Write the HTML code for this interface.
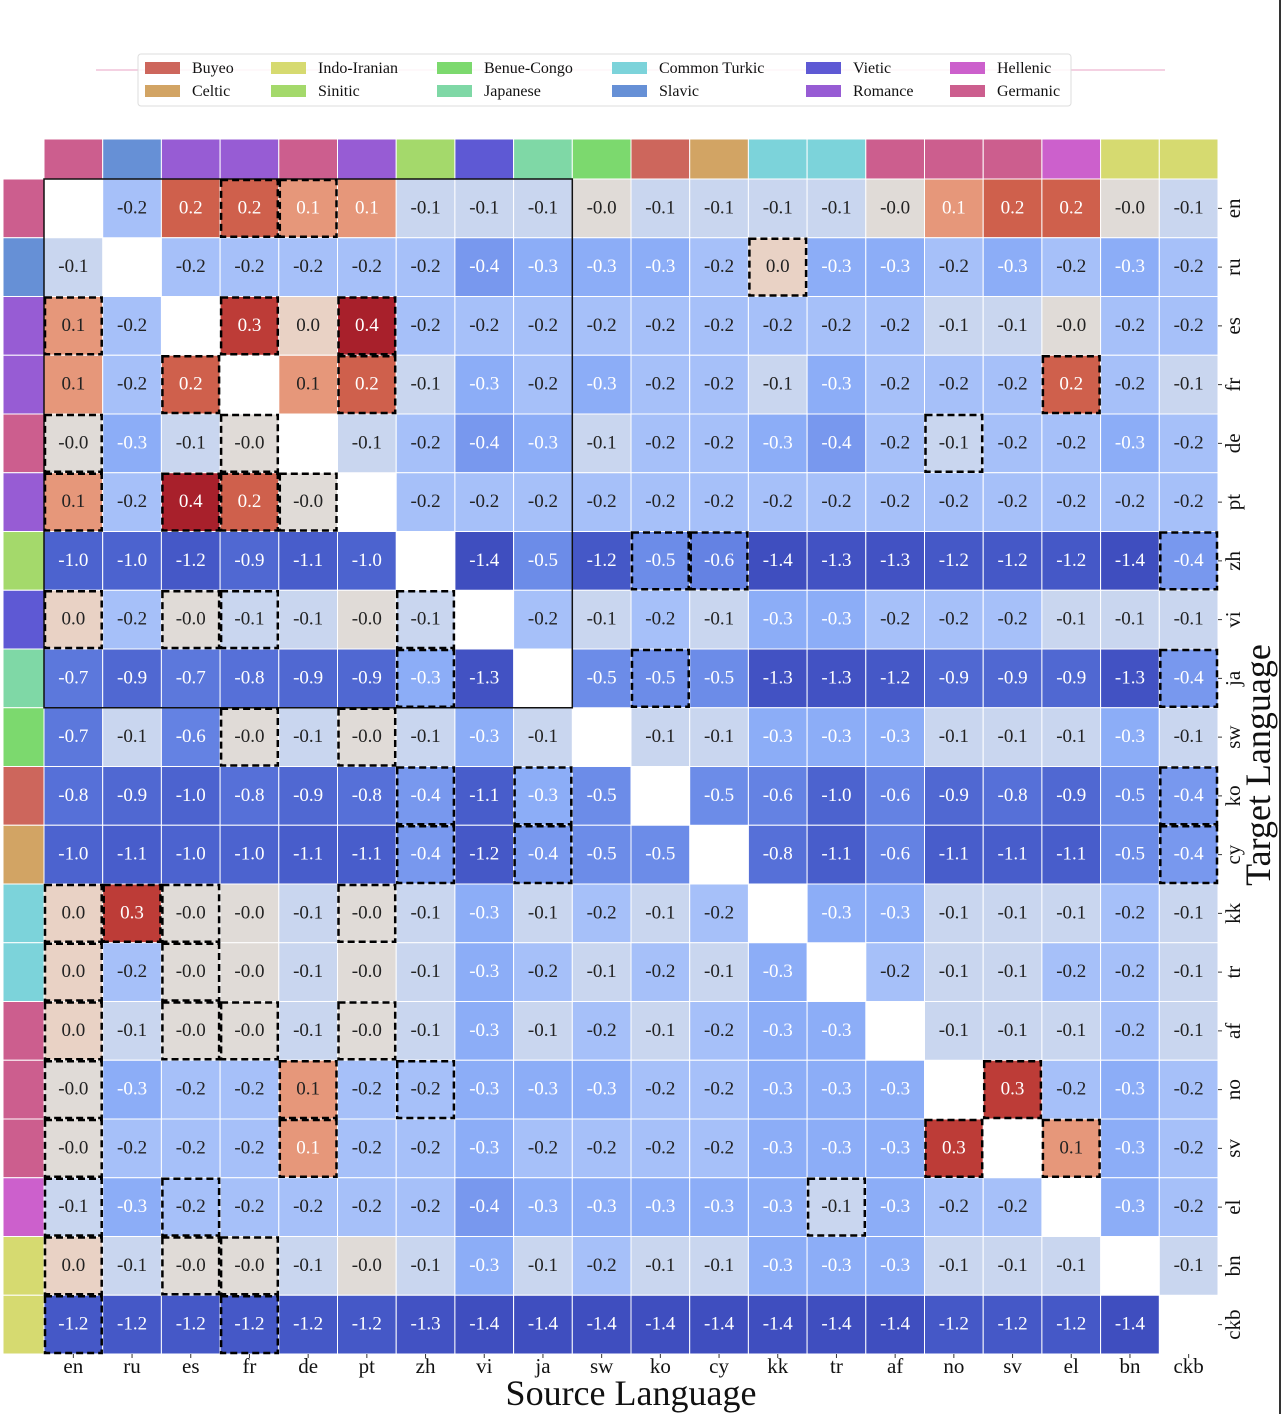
<!DOCTYPE html>
<html><head><meta charset="utf-8"><style>
html,body{margin:0;padding:0;background:#fff;}
svg{display:block;font-family:"Liberation Serif",serif;}
</style></head><body>
<svg id="s" width="1282" height="1414" xmlns="http://www.w3.org/2000/svg"></svg>
<script>
const L=["en","ru","es","fr","de","pt","zh","vi","ja","sw","ko","cy","kk","tr","af","no","sv","el","bn","ckb"];
const fam={en:"#cc5e8e",ru:"#6690d6",es:"#975cd4",fr:"#975cd4",de:"#cc5e8e",pt:"#975cd4",zh:"#a4d96b",vi:"#5e59d4",ja:"#7fd8a6",sw:"#7cd96e",ko:"#cd665c",cy:"#d2a464",kk:"#7cd3da",tr:"#7cd3da",af:"#cc5e8e",no:"#cc5e8e",sv:"#cc5e8e",el:"#cc60cc",bn:"#d6da70",ckb:"#d6da70"};
const D=`_ -0.2 0.2 0.2 0.1 0.1 -0.1 -0.1 -0.1 -0.0 -0.1 -0.1 -0.1 -0.1 -0.0 0.1 0.2 0.2 -0.0 -0.1
-0.1 _ -0.2 -0.2 -0.2 -0.2 -0.2 -0.4 -0.3 -0.3 -0.3 -0.2 0.0 -0.3 -0.3 -0.2 -0.3 -0.2 -0.3 -0.2
0.1 -0.2 _ 0.3 0.0 0.4 -0.2 -0.2 -0.2 -0.2 -0.2 -0.2 -0.2 -0.2 -0.2 -0.1 -0.1 -0.0 -0.2 -0.2
0.1 -0.2 0.2 _ 0.1 0.2 -0.1 -0.3 -0.2 -0.3 -0.2 -0.2 -0.1 -0.3 -0.2 -0.2 -0.2 0.2 -0.2 -0.1
-0.0 -0.3 -0.1 -0.0 _ -0.1 -0.2 -0.4 -0.3 -0.1 -0.2 -0.2 -0.3 -0.4 -0.2 -0.1 -0.2 -0.2 -0.3 -0.2
0.1 -0.2 0.4 0.2 -0.0 _ -0.2 -0.2 -0.2 -0.2 -0.2 -0.2 -0.2 -0.2 -0.2 -0.2 -0.2 -0.2 -0.2 -0.2
-1.0 -1.0 -1.2 -0.9 -1.1 -1.0 _ -1.4 -0.5 -1.2 -0.5 -0.6 -1.4 -1.3 -1.3 -1.2 -1.2 -1.2 -1.4 -0.4
0.0 -0.2 -0.0 -0.1 -0.1 -0.0 -0.1 _ -0.2 -0.1 -0.2 -0.1 -0.3 -0.3 -0.2 -0.2 -0.2 -0.1 -0.1 -0.1
-0.7 -0.9 -0.7 -0.8 -0.9 -0.9 -0.3 -1.3 _ -0.5 -0.5 -0.5 -1.3 -1.3 -1.2 -0.9 -0.9 -0.9 -1.3 -0.4
-0.7 -0.1 -0.6 -0.0 -0.1 -0.0 -0.1 -0.3 -0.1 _ -0.1 -0.1 -0.3 -0.3 -0.3 -0.1 -0.1 -0.1 -0.3 -0.1
-0.8 -0.9 -1.0 -0.8 -0.9 -0.8 -0.4 -1.1 -0.3 -0.5 _ -0.5 -0.6 -1.0 -0.6 -0.9 -0.8 -0.9 -0.5 -0.4
-1.0 -1.1 -1.0 -1.0 -1.1 -1.1 -0.4 -1.2 -0.4 -0.5 -0.5 _ -0.8 -1.1 -0.6 -1.1 -1.1 -1.1 -0.5 -0.4
0.0 0.3 -0.0 -0.0 -0.1 -0.0 -0.1 -0.3 -0.1 -0.2 -0.1 -0.2 _ -0.3 -0.3 -0.1 -0.1 -0.1 -0.2 -0.1
0.0 -0.2 -0.0 -0.0 -0.1 -0.0 -0.1 -0.3 -0.2 -0.1 -0.2 -0.1 -0.3 _ -0.2 -0.1 -0.1 -0.2 -0.2 -0.1
0.0 -0.1 -0.0 -0.0 -0.1 -0.0 -0.1 -0.3 -0.1 -0.2 -0.1 -0.2 -0.3 -0.3 _ -0.1 -0.1 -0.1 -0.2 -0.1
-0.0 -0.3 -0.2 -0.2 0.1 -0.2 -0.2 -0.3 -0.3 -0.3 -0.2 -0.2 -0.3 -0.3 -0.3 _ 0.3 -0.2 -0.3 -0.2
-0.0 -0.2 -0.2 -0.2 0.1 -0.2 -0.2 -0.3 -0.2 -0.2 -0.2 -0.2 -0.3 -0.3 -0.3 0.3 _ 0.1 -0.3 -0.2
-0.1 -0.3 -0.2 -0.2 -0.2 -0.2 -0.2 -0.4 -0.3 -0.3 -0.3 -0.3 -0.3 -0.1 -0.3 -0.2 -0.2 _ -0.3 -0.2
0.0 -0.1 -0.0 -0.0 -0.1 -0.0 -0.1 -0.3 -0.1 -0.2 -0.1 -0.1 -0.3 -0.3 -0.3 -0.1 -0.1 -0.1 _ -0.1
-1.2 -1.2 -1.2 -1.2 -1.2 -1.2 -1.3 -1.4 -1.4 -1.4 -1.4 -1.4 -1.4 -1.4 -1.4 -1.2 -1.2 -1.2 -1.4 _`.split("\n").map(r=>r.trim().split(/\s+/));
const C={"0.4":"#a8202b","0.3":"#bd3c37","0.2":"#cf604c","0.1":"#e6977a","0.0":"#e9d2c5","-0.0":"#e0dbd7","-0.1":"#c9d6ef","-0.2":"#a6c0f9","-0.3":"#8cadf7","-0.4":"#7898ee","-0.5":"#6c8ce8","-0.6":"#6482e3","-0.7":"#5c78dc","-0.8":"#5670d8","-0.9":"#5068d2","-1.0":"#4c63cf","-1.1":"#485dcb","-1.2":"#4558c7","-1.3":"#4252c3","-1.4":"#3f4ebf"};
const B={0:[3,4],1:[12],2:[0,3,5],3:[2,5,17],4:[0,3,15],5:[0,2,3,4],6:[10,11,19],7:[0,2,3,6],8:[6,10,19],9:[3,5],10:[6,8,19],11:[6,8,19],12:[0,1,2,5],13:[0,2],14:[0,2,3,5],15:[0,4,6,16],16:[0,4,15,17],17:[0,2,13],18:[0,2,3],19:[0,3]};
const X0=44,Y0=179,W=58.7,H=58.75;
let s="";
s+=`<line x1="96" y1="70" x2="1165" y2="70" stroke="#e8a3c4" stroke-width="1"/>`;
s+=`<rect x="138" y="54" width="933" height="52" rx="3" fill="#fff" fill-opacity="0.85" stroke="#ddd"/>`;
const leg=[["Buyeo","#cd665c",145,1],["Celtic","#d2a464",145,2],["Indo-Iranian","#d6da70",271,1],["Sinitic","#a4d96b",271,2],["Benue-Congo","#7cd96e",437,1],["Japanese","#7fd8a6",437,2],["Common Turkic","#7cd3da",612,1],["Slavic","#6690d6",612,2],["Vietic","#5e59d4",806,1],["Romance","#975cd4",806,2],["Hellenic","#cc60cc",950,1],["Germanic","#cc5e8e",950,2]];
for(const [t,c,x,r] of leg){const y=r==1?62:85;s+=`<rect x="${x}" y="${y}" width="35" height="12" fill="${c}"/><text x="${x+47}" y="${y+11}" font-size="16" fill="#111">${t}</text>`;}
for(let i=0;i<20;i++){const c=fam[L[i]];
s+=`<rect x="${X0+i*W}" y="139" width="${W}" height="40" fill="${c}" stroke="#fff" stroke-width="1"/>`;
s+=`<rect x="3" y="${Y0+i*H}" width="41" height="${H}" fill="${c}" stroke="#fff" stroke-width="1"/>`;}
for(let r=0;r<20;r++)for(let c=0;c<20;c++){const v=D[r][c];if(v==="_")continue;
const x=X0+c*W,y=Y0+r*H;s+=`<rect x="${x}" y="${y}" width="${W}" height="${H}" fill="${C[v]}" stroke="#fff" stroke-width="1"/>`;
const n=parseFloat(v);let white=(n<=-0.3)||(n>=0.2)||(n==0.1&&(r==0||r==16&&c==4))||(v==="0.3");
s+=`<text x="${x+W/2}" y="${y+H/2+5}" text-anchor="middle" font-size="19" fill="${white?'#fff':'#222'}">${v}</text>`;}
s+=`<rect x="${X0}" y="${Y0}" width="${9*W}" height="${9*H}" fill="none" stroke="#111" stroke-width="1.5"/>`;
for(const r in B)for(const c of B[r]){s+=`<rect x="${X0+c*W+1}" y="${Y0+r*H+1}" width="${W-2}" height="${H-2}" fill="none" stroke="#000" stroke-width="2.5" stroke-dasharray="7,4"/>`;}
const XR=X0+20*W;
for(let i=0;i<20;i++){const cx=X0+i*W+W/2,cy=Y0+i*H+H/2;
s+=`<line x1="${cx}" y1="1354" x2="${cx}" y2="1358" stroke="#333"/><text x="${cx}" y="1373" text-anchor="middle" font-size="21" fill="#111">${L[i]}</text>`;
s+=`<line x1="${XR}" y1="${cy}" x2="${XR+4}" y2="${cy}" stroke="#333"/><text transform="translate(1240,${cy}) rotate(-90)" text-anchor="middle" font-size="21" fill="#111">${L[i]}</text>`;}
s+=`<text x="631" y="1405" text-anchor="middle" font-size="36" fill="#111">Source Language</text>`;
s+=`<text transform="translate(1270,765) rotate(-90)" text-anchor="middle" font-size="36" fill="#111">Target Language</text>`;
s+=`<line x1="1280" y1="0" x2="1280" y2="1414" stroke="#333" stroke-width="2"/>`;
document.getElementById("s").innerHTML=s;
</script>
</body></html>
